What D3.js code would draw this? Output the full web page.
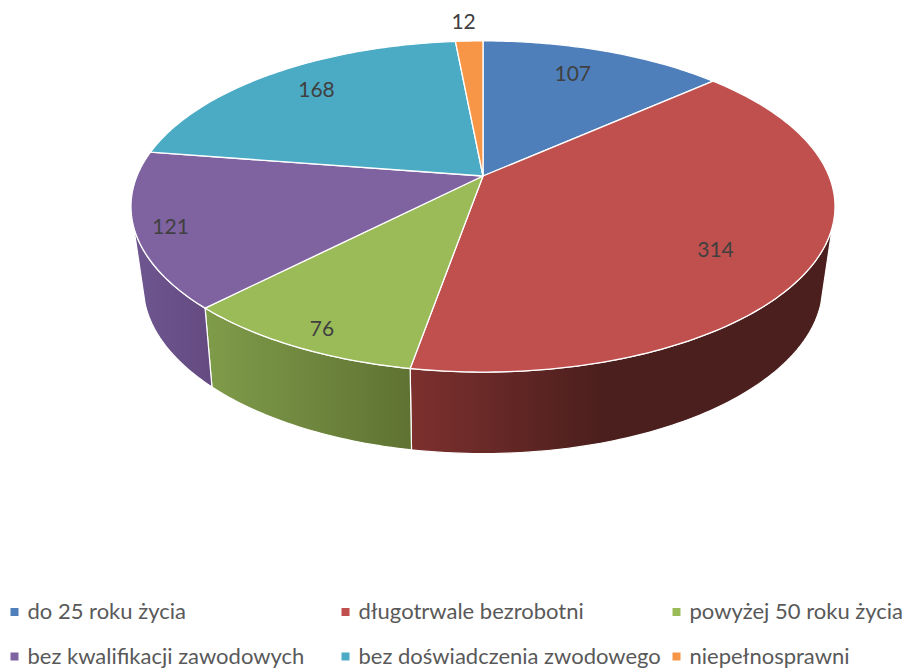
<!DOCTYPE html>
<html>
<head>
<meta charset="utf-8">
<script src="https://cdn.jsdelivr.net/npm/d3@7"></script>
<style>
  html, body { margin: 0; background: #fff; }
  text { font-family: Lato, "Open Sans", sans-serif; }
</style>
</head>
<body>
<svg id="chart" width="904" height="669"></svg>
<script>
const categories = ["do 25 roku życia", "długotrwale bezrobotni", "powyżej 50 roku życia",
  "bez kwalifikacji zawodowych", "bez doświadczenia zwodowego", "niepełnosprawni"];
const values = [107, 314, 76, 121, 168, 12];
const topColors = ["#4f7fbb", "#bf504d", "#9bbb59", "#7f62a0", "#4babc5", "#f79646"];

// wall shading, left and right end of each slice's gradient
const wallLeft = ["#3a5f8c", "#7d302e", "#7f9c4a", "#6e5690", "#38808f", "#b86f33"];
const wallRight = ["#2a4566", "#4b1f1d", "#5f7232", "#644a80", "#2a5f6b", "#8a5326"];

const svg = d3.select("#chart");
const defs = svg.append("defs");

// the tilted disc is a perspective view of a circle, k is the perspective strength
const topDisc = {cx: 483, cy: 176, a: 346, b: 160, k: 0.184};
const bottomDisc = {cx: 483, cy: 252, a: 333, b: 161.3, k: 0.2};

function project(disc, angle, r = 1) {
  const u = Math.sin(angle) * r;
  const v = -Math.cos(angle) * r;
  const w = 1 - disc.k * v;
  return [disc.cx + disc.a * u / w, disc.cy + disc.b * v / w];
}

const pie = d3.pie().sort(null).value(d => d);
const arcs = pie(values);
const line = d3.line();

function arcPoints(disc, a0, a1) {
  const n = Math.max(2, Math.ceil((a1 - a0) * 60));
  return d3.range(n + 1).map(i => project(disc, a0 + (a1 - a0) * i / n));
}

// only this part of the rim faces the viewer
const rimStart = 107.5 * Math.PI / 180;
const rimEnd = 252.5 * Math.PI / 180;

const walls = svg.append("g");
arcs.forEach((d, i) => {
  const a0 = Math.max(d.startAngle, rimStart);
  const a1 = Math.min(d.endAngle, rimEnd);
  if (a1 <= a0) return;
  const top = arcPoints(topDisc, a0, a1);
  const bottom = arcPoints(bottomDisc, a0, a1).reverse();
  const xs = top.concat(bottom).map(p => p[0]);
  const id = "wall" + i;
  const grad = defs.append("linearGradient").attr("id", id)
    .attr("gradientUnits", "userSpaceOnUse")
    .attr("x1", d3.min(xs)).attr("x2", i == 1 ? d3.min(xs) + 190 : d3.max(xs))
    .attr("y1", 0).attr("y2", 0);
  grad.append("stop").attr("offset", 0).attr("stop-color", wallLeft[i]);
  grad.append("stop").attr("offset", 1).attr("stop-color", wallRight[i]);
  walls.append("path")
    .attr("d", line(top.concat(bottom)) + "Z")
    .attr("fill", `url(#${id})`)
    .attr("stroke", "#fff")
    .attr("stroke-width", 1.2)
    .attr("stroke-linejoin", "round");
});

const slices = svg.append("g");
arcs.forEach((d, i) => {
  const pts = [[topDisc.cx, topDisc.cy]].concat(arcPoints(topDisc, d.startAngle, d.endAngle));
  slices.append("path")
    .attr("d", line(pts) + "Z")
    .attr("fill", topColors[i])
    .attr("stroke", "#fff")
    .attr("stroke-width", 1.3)
    .attr("stroke-linejoin", "round");
});

// labels sit at 80% radius, excel then moves them around a bit
const nudgeX = [-10, -28, -16, -37, 5, -8];
const nudgeY = [-1, 5, 20, 7, -3, -44];
svg.append("g").selectAll("text")
  .data(arcs)
  .join("text")
  .attr("x", (d, i) => project(topDisc, (d.startAngle + d.endAngle) / 2, 0.8)[0] + nudgeX[i])
  .attr("y", (d, i) => project(topDisc, (d.startAngle + d.endAngle) / 2, 0.8)[1] + nudgeY[i])
  .attr("text-anchor", "middle")
  .attr("dominant-baseline", "central")
  .attr("font-size", 21)
  .attr("fill", "#404040")
  .text(d => d.data);

// legend, 3 columns on 2 rows
const legendX = d3.scalePoint().domain([0, 1, 2]).range([10.5, 672.5]);
const legendY = d3.scalePoint().domain([0, 1]).range([612, 656.5]);
const legend = svg.append("g").selectAll("g")
  .data(categories)
  .join("g")
  .attr("transform", (d, i) => `translate(${legendX(i % 3)},${legendY(Math.floor(i / 3))})`);
legend.append("rect")
  .attr("x", 0).attr("y", -4).attr("width", 8).attr("height", 8)
  .attr("fill", (d, i) => topColors[i]);
legend.append("text")
  .attr("x", 17)
  .attr("y", -1.5)
  .attr("dominant-baseline", "central")
  .attr("font-size", 22)
  .attr("fill", "#595959")
  .text(d => d);
</script>
</body>
</html>
